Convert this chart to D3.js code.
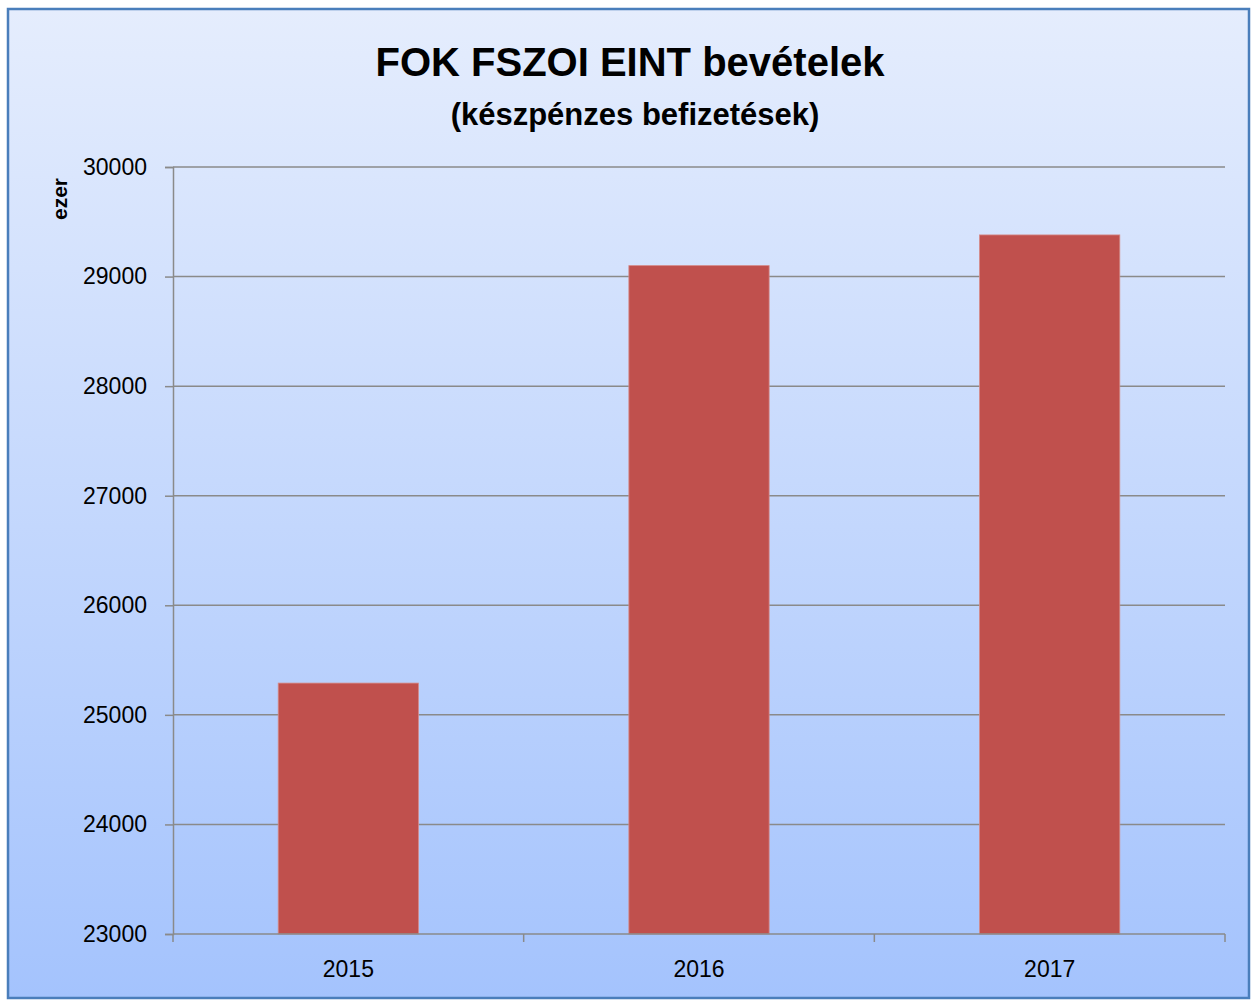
<!DOCTYPE html>
<html>
<head>
<meta charset="utf-8">
<script src="https://cdn.jsdelivr.net/npm/d3@7"></script>
<style>
  body { margin: 0; background: #fff; }
  svg text { font-family: "Liberation Sans", Arial, sans-serif; }
</style>
</head>
<body>
<svg id="chart" width="1255" height="1002"></svg>
<script>
// Chart data
const years = ["2015", "2016", "2017"];
const values = [25290, 29100, 29380];
const yTicks = [23000, 24000, 25000, 26000, 27000, 28000, 29000, 30000];

const svg = d3.select("#chart");
const margin = { top: 167, right: 30, bottom: 68, left: 173 };
const W = 1255, H = 1002;
const innerW = W - margin.left - margin.right;
const innerH = H - margin.top - margin.bottom;

// background gradient
const defs = svg.append("defs");
const grad = defs.append("linearGradient")
  .attr("id", "bg").attr("x1", 0).attr("y1", 0).attr("x2", 0).attr("y2", 1);
grad.append("stop").attr("offset", "0%").attr("stop-color", "#e5edfd");
grad.append("stop").attr("offset", "100%").attr("stop-color", "#a4c3fd");

svg.append("rect")
  .attr("x", 8).attr("y", 9)
  .attr("width", 1241).attr("height", 989)
  .attr("fill", "url(#bg)")
  .attr("stroke", "#4a7ebb")
  .attr("stroke-width", 2.5);

// Titles
svg.append("text")
  .attr("x", 630).attr("y", 76)
  .attr("text-anchor", "middle")
  .style("font-size", "40px").style("font-weight", "bold")
  .text("FOK FSZOI EINT bevételek");
svg.append("text")
  .attr("x", 635).attr("y", 125)
  .attr("text-anchor", "middle")
  .style("font-size", "31px").style("font-weight", "bold")
  .text("(készpénzes befizetések)");

const g = svg.append("g")
  .attr("transform", `translate(${margin.left},${margin.top})`);

// Scales
const x = d3.scaleBand().domain(years).range([0, innerW])
  .paddingInner(0.6).paddingOuter(0.3);
const y = d3.scaleLinear().domain([23000, 30000]).range([innerH, 0]);

// Gridlines
g.selectAll("line.grid")
  .data(yTicks.slice(1))
  .join("line")
    .attr("class", "grid")
    .attr("x1", 0).attr("x2", innerW)
    .attr("y1", d => y(d)).attr("y2", d => y(d))
    .attr("stroke", "#8a8a8a")
    .attr("stroke-width", 1.5);

// Bars
g.selectAll("rect.bar")
  .data(values)
  .join("rect")
    .attr("class", "bar")
    .attr("x", (d, i) => x(years[i]))
    .attr("width", x.bandwidth())
    .attr("y", d => y(d))
    .attr("height", d => innerH - y(d))
    .attr("fill", "#c0504d")
    .attr("stroke", "#d58a88")
    .attr("stroke-width", 0.8);

// Y axis
const yAxis = g.append("g")
  .call(d3.axisLeft(y).tickValues(yTicks).tickSize(8).tickPadding(18)
    .tickFormat(d3.format("d")));
yAxis.select(".domain").attr("stroke", "#8a8a8a").attr("stroke-width", 1.5);
yAxis.selectAll(".tick line").attr("stroke", "#8a8a8a").attr("stroke-width", 1.5);
yAxis.selectAll(".tick text")
  .style("font-size", "23px").attr("fill", "#000");

// X axis
const xAxis = g.append("g")
  .attr("transform", `translate(0,${innerH})`)
  .call(d3.axisBottom(x).tickSize(0).tickPadding(27));
xAxis.select(".domain").remove();
xAxis.selectAll(".tick text").style("font-size", "23px").attr("fill", "#000");

g.append("line")
  .attr("x1", 0).attr("x2", innerW)
  .attr("y1", innerH).attr("y2", innerH)
  .attr("stroke", "#8a8a8a").attr("stroke-width", 1.5);

// category separator ticks
const step = x.step();
g.selectAll("line.xtick")
  .data(d3.range(years.length + 1))
  .join("line")
    .attr("class", "xtick")
    .attr("x1", i => i * step).attr("x2", i => i * step)
    .attr("y1", innerH).attr("y2", innerH + 8)
    .attr("stroke", "#8a8a8a").attr("stroke-width", 1.5);

// Y axis title
svg.append("text")
  .attr("transform", "translate(67,199) rotate(-90)")
  .attr("text-anchor", "middle")
  .style("font-size", "21px").style("font-weight", "bold")
  .text("ezer");
</script>
</body>
</html>
